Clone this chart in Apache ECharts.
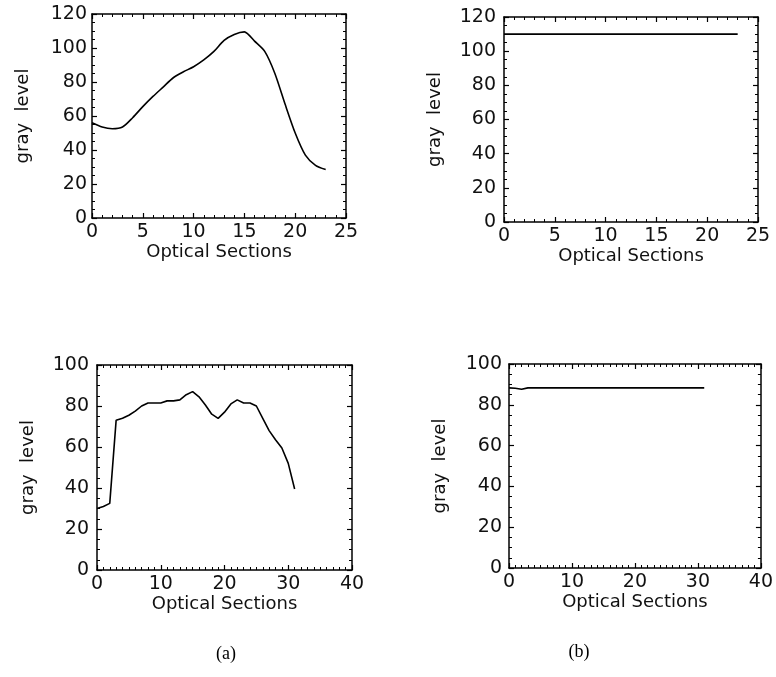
<!DOCTYPE html>
<html>
<head>
<meta charset="utf-8">
<script src="https://cdn.jsdelivr.net/npm/echarts@6/dist/echarts.min.js"></script>
<style>
html,body{margin:0;padding:0;background:#fff;}
#chart{width:776px;height:677px;}
</style>
</head>
<body>
<div id="chart"></div>
<script>
// ---- data ----
const sectionsTop = [0,1,2,3,4,5,6,7,8,9,10,11,12,13,14,15,16,17,18,19,20,21,22,23];
const grayA = [56,53.5,52.5,53.5,59,65.5,71.5,77,82.5,86,89,93,98,104.5,108,109.5,104,98,85,67,50,37,31,28.5];
const grayB = [110,110,110,110,110,110,110,110,110,110,110,110,110,110,110,110,110,110,110,110,110,110,110,110];
const sectionsBottom = [0,1,2,3,4,5,6,7,8,9,10,11,12,13,14,15,16,17,18,19,20,21,22,23,24,25,26,27,28,29,30,31];
const grayC = [30,31,32.5,73,74,75.5,77.5,80,81.5,81.5,81.5,82.5,82.5,83,85.5,87,84.5,80.5,76,74,77,81,83,81.5,81.5,80,74,68,63.5,59.5,52,39.5];
const grayD = [88.3,88.1,87.6,88.3,88.3,88.3,88.3,88.3,88.3,88.3,88.3,88.3,88.3,88.3,88.3,88.3,88.3,88.3,88.3,88.3,88.3,88.3,88.3,88.3,88.3,88.3,88.3,88.3,88.3,88.3,88.3,88.3];
const xTicksTop = [0,5,10,15,20,25];
const yTicksTop = [0,20,40,60,80,100,120];
const xTicksBottom = [0,10,20,30,40];
const yTicksBottom = [0,20,40,60,80,100];
const xName = 'Optical Sections';
const yName = 'gray  level';
const captions = ['(a)', '(b)'];

const FONT = 'DejaVu Sans';
const panels = [
  {grid:{left:92, top:14, width:254, height:204}, xt:xTicksTop, yt:yTicksTop, xMinor:5, yMinor:4, xs:sectionsTop, ys:grayA, ym:5, smooth:0.25},
  {grid:{left:504, top:17, width:254, height:205}, xt:xTicksTop, yt:yTicksTop, xMinor:5, yMinor:4, xs:sectionsTop, ys:grayB, ym:8, smooth:false},
  {grid:{left:97, top:365, width:255, height:205}, xt:xTicksBottom, yt:yTicksBottom, xMinor:10, yMinor:4, xs:sectionsBottom, ys:grayC, ym:8, smooth:false},
  {grid:{left:509, top:364, width:253, height:204}, xt:xTicksBottom, yt:yTicksBottom, xMinor:10, yMinor:4, xs:sectionsBottom, ys:grayD, ym:7, smooth:false}
];

const grids = [], xAxes = [], yAxes = [], series = [];
panels.forEach((p, i) => {
  grids.push(p.grid);
  const xmin = p.xt[0], xmax = p.xt[p.xt.length-1], xint = p.xt[1]-p.xt[0];
  const ymin = p.yt[0], ymax = p.yt[p.yt.length-1], yint = p.yt[1]-p.yt[0];
  const line = {show:true, onZero:false, lineStyle:{color:'#000', width:1.5}};
  const tick = {show:true, inside:true, length:5, lineStyle:{color:'#000', width:1.2}};
  const minor = (n) => ({show:true, splitNumber:n, length:3, lineStyle:{color:'#000', width:1}});
  // bottom x
  xAxes.push({gridIndex:i, type:'value', position:'bottom', min:xmin, max:xmax, interval:xint,
    axisLine:line, axisTick:tick, minorTick:minor(p.xMinor), splitLine:{show:false},
    axisLabel:{show:true, margin:5, color:'#111', fontFamily:FONT, fontSize:19, showMaxLabel:true, showMinLabel:true},
    name:xName, nameLocation:'middle', nameGap:17,
    nameTextStyle:{color:'#111', fontFamily:FONT, fontSize:18, verticalAlign:'top'}});
  // top x (frame)
  xAxes.push({gridIndex:i, type:'value', position:'top', min:xmin, max:xmax, interval:xint,
    axisLine:line, axisTick:tick, minorTick:minor(p.xMinor), splitLine:{show:false}, axisLabel:{show:false}});
  // left y
  yAxes.push({gridIndex:i, type:'value', position:'left', min:ymin, max:ymax, interval:yint,
    axisLine:line, axisTick:tick, minorTick:minor(p.yMinor), splitLine:{show:false},
    axisLabel:{show:true, margin:p.ym, color:'#111', fontFamily:FONT, fontSize:19},
    name:yName, nameLocation:'middle', nameGap:60, nameRotate:90,
    nameTextStyle:{color:'#111', fontFamily:FONT, fontSize:18}});
  // right y (frame)
  yAxes.push({gridIndex:i, type:'value', position:'right', min:ymin, max:ymax, interval:yint,
    axisLine:line, axisTick:tick, minorTick:minor(p.yMinor), splitLine:{show:false}, axisLabel:{show:false}});
  series.push({type:'line', xAxisIndex:2*i, yAxisIndex:2*i, showSymbol:false, symbol:'none', smooth:p.smooth,
    data:p.xs.map((x, k) => [x, p.ys[k]]), lineStyle:{color:'#000', width:1.6}, animation:false});
});

const chart = echarts.init(document.getElementById('chart'), null, {renderer:'canvas'});
chart.setOption({
  backgroundColor:'#fff',
  animation:false,
  grid:grids, xAxis:xAxes, yAxis:yAxes, series:series,
  graphic:[
    {type:'text', x:226, y:654, style:{text:captions[0], font:'18px "Liberation Serif"', fill:'#000', textAlign:'center', textVerticalAlign:'middle'}},
    {type:'text', x:579, y:652, style:{text:captions[1], font:'18px "Liberation Serif"', fill:'#000', textAlign:'center', textVerticalAlign:'middle'}}
  ]
});
</script>
</body>
</html>
